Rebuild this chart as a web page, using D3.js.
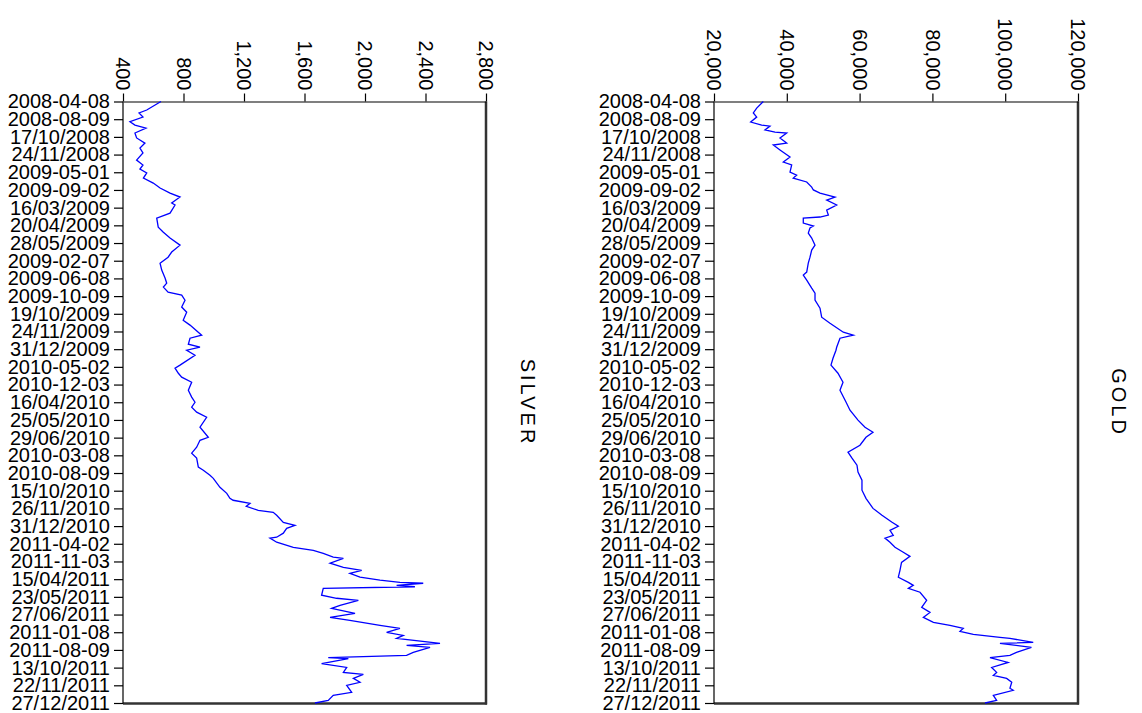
<!DOCTYPE html>
<html>
<head>
<meta charset="utf-8">
<script src="https://cdn.jsdelivr.net/npm/d3@7"></script>
<style>
  body { margin: 0; background: #fff; }
  svg { display: block; font-family: "Liberation Sans", Arial, sans-serif; }
</style>
</head>
<body>
<div id="chart"></div>
<script>
// category labels down the side (as they appear in the sheet)
const dateLabels = [
  "2008-04-08", "2008-08-09", "17/10/2008", "24/11/2008", "2009-05-01",
  "2009-09-02", "16/03/2009", "20/04/2009", "28/05/2009", "2009-02-07",
  "2009-06-08", "2009-10-09", "19/10/2009", "24/11/2009", "31/12/2009",
  "2010-05-02", "2010-12-03", "16/04/2010", "25/05/2010", "29/06/2010",
  "2010-03-08", "2010-08-09", "15/10/2010", "26/11/2010", "31/12/2010",
  "2011-04-02", "2011-11-03", "15/04/2011", "23/05/2011", "27/06/2011",
  "2011-01-08", "2011-08-09", "13/10/2011", "22/11/2011", "27/12/2011"
];

const silverTicks = [400, 800, 1200, 1600, 2000, 2400, 2800];
const goldTicks = [20000, 40000, 60000, 80000, 100000, 120000];

// [position along the label axis, price]
const silverSeries = [
  [0, 651], [0.48, 557], [0.65, 506], [0.88, 532], [1.14, 446], [1.33, 479],
  [1.5, 552], [1.78, 479], [2.06, 490], [2.35, 545], [2.63, 512], [2.91, 532],
  [3.31, 490], [3.59, 532], [3.82, 512], [4.04, 557], [4.33, 535], [4.61, 600],
  [4.89, 645], [5.18, 711], [5.4, 777], [5.74, 722], [5.85, 744], [6.31, 711],
  [6.59, 623], [7.1, 633], [7.38, 665], [7.72, 711], [8.12, 777], [8.51, 722],
  [8.8, 698], [9.14, 645], [9.53, 656], [9.98, 678], [10.27, 689], [10.49, 667],
  [10.78, 698], [10.94, 788], [11.23, 810], [11.62, 788], [11.91, 821], [12.36, 798],
  [12.64, 843], [13.21, 920], [13.38, 843], [13.72, 832], [13.89, 909], [14.06, 821],
  [14.34, 876], [14.9, 777], [15.07, 744], [15.36, 766], [15.58, 788], [15.87, 854],
  [16.32, 832], [16.71, 854], [17.0, 876], [17.28, 854], [17.56, 887], [17.85, 953],
  [18.41, 909], [18.98, 964], [19.15, 909], [19.54, 887], [19.88, 854], [20.16, 887],
  [20.67, 898], [20.84, 931], [21.13, 975], [21.3, 997], [21.81, 1041], [22.15, 1086],
  [22.43, 1107], [22.54, 1128], [22.71, 1240], [22.88, 1215], [23.11, 1294], [23.22, 1393],
  [23.39, 1416], [23.79, 1460], [23.96, 1537], [24.13, 1482], [24.4, 1460], [24.63, 1416],
  [24.68, 1372], [24.91, 1416], [25.2, 1526], [25.37, 1658], [25.54, 1724], [25.76, 1790],
  [25.82, 1857], [26.1, 1769], [26.33, 1857], [26.5, 1978], [26.67, 1900], [26.89, 1967],
  [27.06, 2099], [27.18, 2231], [27.23, 2385], [27.35, 2209], [27.43, 2330], [27.52, 1724],
  [27.91, 1713], [28.08, 1812], [28.2, 1956], [28.48, 1835], [28.65, 1779], [28.93, 1934],
  [29.16, 1769], [29.33, 1900], [29.61, 2099], [29.78, 2231], [30.01, 2143], [30.18, 2253],
  [30.35, 2209], [30.63, 2496], [30.74, 2275], [30.86, 2430], [31.14, 2319], [31.31, 2275],
  [31.43, 1757], [31.49, 1890], [31.77, 1713], [31.99, 1879], [32.27, 1857], [32.38, 1989],
  [32.61, 1923], [32.83, 1967], [33.0, 1879], [33.4, 1912], [33.57, 1790], [33.85, 1757],
  [34, 1669]
];

const goldSeries = [
  [0, 33546], [0.37, 31730], [0.65, 30800], [0.88, 31730], [1.16, 30080], [1.33, 33100],
  [1.39, 35380], [1.61, 34010], [1.73, 36760], [1.78, 39970], [2.06, 38130], [2.35, 39970],
  [2.46, 36290], [2.74, 38130], [3.14, 40880], [3.42, 39040], [3.59, 41340], [3.99, 40880],
  [4.16, 42710], [4.33, 41780], [4.55, 45470], [4.84, 46840], [5.0, 47300], [5.18, 49120],
  [5.4, 53240], [5.57, 50960], [5.85, 53700], [6.14, 50960], [6.42, 51420], [6.53, 49120],
  [6.59, 44530], [6.87, 44530], [7.04, 47300], [7.15, 46370], [7.44, 45900], [7.72, 46840],
  [8.12, 47750], [8.4, 46840], [8.8, 46370], [9.14, 45900], [9.64, 45470], [9.81, 44530],
  [10.1, 45470], [10.55, 46840], [10.83, 47750], [11.23, 47750], [11.68, 49120], [12.19, 49580],
  [12.53, 51870], [13.04, 55520], [13.21, 58270], [13.38, 54610], [13.89, 53700], [14.06, 53510],
  [14.51, 52690], [14.9, 52140], [15.36, 54060], [15.87, 55440], [16.32, 54610], [16.99, 56260],
  [17.45, 57360], [18.01, 59560], [18.41, 61480], [18.7, 63680], [18.98, 61750], [19.43, 60100],
  [19.82, 56810], [20.16, 57910], [20.56, 59280], [20.95, 59560], [21.41, 60650], [21.97, 60650],
  [22.43, 61750], [23.0, 63680], [23.39, 66150], [23.77, 68810], [24.01, 70640], [24.24, 68350],
  [24.52, 69250], [24.68, 66970], [24.91, 68350], [25.2, 69720], [25.48, 72000], [25.71, 73840],
  [26.05, 71520], [26.5, 71090], [26.89, 70640], [27.18, 73390], [27.35, 74750], [27.52, 73390],
  [27.74, 76590], [28.2, 78420], [28.59, 77060], [28.88, 79340], [29.16, 77510], [29.44, 80270],
  [29.61, 84830], [29.78, 88490], [29.95, 87580], [30.12, 91240], [30.29, 98560], [30.35, 101300],
  [30.57, 107700], [30.63, 98560], [30.86, 107200], [31.14, 103100], [31.31, 101300], [31.43, 95820],
  [31.71, 100800], [31.99, 96280], [32.27, 97650], [32.44, 96740], [32.61, 100400], [32.83, 101800],
  [33.17, 101300], [33.28, 102200], [33.57, 96740], [33.85, 97650], [34, 94450]
];

const width = 1142;
const height = 713;
const plotTop = 101.5;
const plotBottom = 703.5;

const panels = [
  { title: "SILVER", data: silverSeries, ticks: silverTicks, left: 123, right: 486, titleX: 528 },
  { title: "GOLD", data: goldSeries, ticks: goldTicks, left: 714, right: 1078, titleX: 1119 }
];

const svg = d3.select("#chart")
  .append("svg")
  .attr("width", width)
  .attr("height", height);

const y = d3.scaleLinear()
  .domain([0, dateLabels.length - 1])
  .range([plotTop, plotBottom - 0.5]);

panels.forEach(p => {
  const x = d3.scaleLinear()
    .domain(d3.extent(p.ticks))
    .range([p.left, p.right]);

  const g = svg.append("g");

  // frame: heavier right and bottom edges
  g.append("line")
    .attr("x1", p.right).attr("x2", p.right)
    .attr("y1", plotTop).attr("y2", plotBottom + 1)
    .attr("stroke", "#333").attr("stroke-width", 2.5);
  g.append("line")
    .attr("x1", p.left).attr("x2", p.right + 1)
    .attr("y1", plotBottom).attr("y2", plotBottom)
    .attr("stroke", "#333").attr("stroke-width", 2.5);

  // value axis across the top, labels turned
  const topAxis = g.append("g")
    .attr("transform", `translate(0,${plotTop})`)
    .call(d3.axisTop(x)
      .tickValues(p.ticks)
      .tickFormat(d3.format(","))
      .tickSize(8)
      .tickSizeOuter(0));
  topAxis.selectAll("text")
    .attr("transform", "rotate(90)")
    .attr("x", -11)
    .attr("y", 0)
    .attr("dy", "0.36em")
    .attr("text-anchor", "end")
    .style("font-size", "20px")
    .style("fill", "#000");

  // date labels down the left
  const leftAxis = g.append("g")
    .attr("transform", `translate(${p.left},0)`)
    .call(d3.axisLeft(y)
      .tickValues(d3.range(dateLabels.length))
      .tickFormat(i => dateLabels[i])
      .tickSize(9)
      .tickPadding(4)
      .tickSizeOuter(0));
  leftAxis.select(".domain").attr("d", `M0,${plotTop}V${plotBottom}`);
  leftAxis.selectAll("text")
    .style("font-size", "20px")
    .style("fill", "#000");

  svg.selectAll(".domain, .tick line").attr("stroke", "#000").attr("stroke-width", 1.2);

  // price line
  const line = d3.line()
    .x(d => x(d[1]))
    .y(d => y(d[0]));

  g.append("path")
    .datum(p.data)
    .attr("fill", "none")
    .attr("stroke", "#0000ff")
    .attr("stroke-width", 1.3)
    .attr("d", line);

  // panel title at the right, turned
  g.append("text")
    .attr("transform", `translate(${p.titleX},${(plotTop + plotBottom) / 2}) rotate(90)`)
    .attr("text-anchor", "middle")
    .attr("dy", "0.36em")
    .style("font-size", "20px")
    .style("letter-spacing", "3px")
    .text(p.title);
});
</script>
</body>
</html>
